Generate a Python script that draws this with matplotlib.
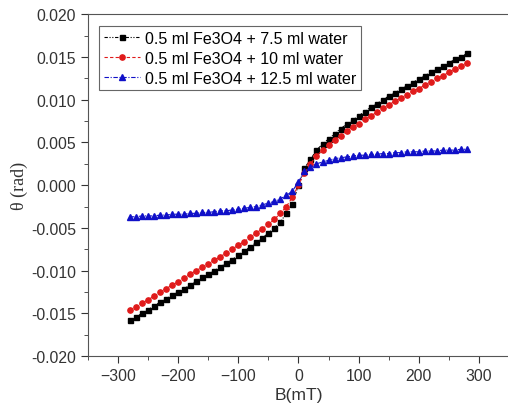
import numpy as np
import matplotlib.pyplot as plt
from matplotlib.ticker import MultipleLocator

# B field (mT), 10 mT steps
B = list(range(-280, 281, 10))

# 0.5 ml Fe3O4 + 7.5 ml water
theta_75 = [-0.0158, -0.0154, -0.0150, -0.0146, -0.0141, -0.0137, -0.0133, -0.0129,
            -0.0125, -0.0121, -0.0117, -0.0112, -0.0108, -0.0104, -0.0100, -0.0096,
            -0.0091, -0.0087, -0.0082, -0.0077, -0.0072, -0.0067, -0.0062, -0.0056,
            -0.0050, -0.0043, -0.0033, -0.0022, 0.0000, 0.0020, 0.0030, 0.0041,
            0.0048, 0.0054, 0.0060, 0.0066, 0.0071, 0.0076, 0.0081, 0.0086,
            0.0091, 0.0095, 0.0100, 0.0104, 0.0108, 0.0112, 0.0116, 0.0120,
            0.0124, 0.0128, 0.0132, 0.0136, 0.0139, 0.0143, 0.0147, 0.0150, 0.0154]
# 0.5 ml Fe3O4 + 10 ml water
theta_10 = [-0.0146, -0.0142, -0.0138, -0.0134, -0.0130, -0.0125, -0.0121, -0.0117,
            -0.0113, -0.0109, -0.0104, -0.0100, -0.0096, -0.0092, -0.0088, -0.0084,
            -0.0079, -0.0075, -0.0070, -0.0066, -0.0061, -0.0056, -0.0051, -0.0046,
            -0.0040, -0.0033, -0.0025, -0.0014, 0.0000, 0.0014, 0.0025, 0.0034,
            0.0041, 0.0047, 0.0053, 0.0058, 0.0063, 0.0068, 0.0072, 0.0077,
            0.0081, 0.0085, 0.0090, 0.0094, 0.0098, 0.0102, 0.0106, 0.0110,
            0.0113, 0.0117, 0.0121, 0.0125, 0.0128, 0.0132, 0.0136, 0.0139, 0.0143]
# 0.5 ml Fe3O4 + 12.5 ml water
theta_125 = [-0.0037, -0.0037, -0.0036, -0.0036, -0.0036, -0.0035, -0.0035, -0.0034,
             -0.0034, -0.0034, -0.0033, -0.0033, -0.0032, -0.0032, -0.0031, -0.0030,
             -0.0030, -0.0029, -0.0028, -0.0027, -0.0026, -0.0025, -0.0023, -0.0021,
             -0.0019, -0.0016, -0.0012, -0.0007, 0.0004, 0.0016, 0.0021, 0.0025,
             0.0027, 0.0029, 0.0031, 0.0032, 0.0033, 0.0034, 0.0035, 0.0035,
             0.0036, 0.0036, 0.0037, 0.0037, 0.0038, 0.0038, 0.0039, 0.0039,
             0.0039, 0.0040, 0.0040, 0.0040, 0.0041, 0.0041, 0.0041, 0.0042, 0.0042]

labels = ['0.5 ml Fe3O4 + 7.5 ml water',
          '0.5 ml Fe3O4 + 10 ml water',
          '0.5 ml Fe3O4 + 12.5 ml water']

plt.rcParams['font.family'] = ['Liberation Sans', 'DejaVu Sans']

fig = plt.figure(figsize=(5.08, 4.10), dpi=100)
ax = fig.add_axes([0.173, 0.129, 0.829, 0.834])

ax.plot(B, theta_75, color='black', linestyle=(0, (3, 1.5, 1, 1.5, 1, 1.5)), lw=0.8,
        marker='s', markersize=3.6, label=labels[0])
ax.plot(B, theta_10, color='#e01b1b', linestyle=(0, (3, 2)), lw=0.8,
        marker='o', markersize=3.8, label=labels[1])
ax.plot(B, theta_125, color='#1010c8', linestyle=(0, (4, 1.5, 1, 1.5)), lw=0.8,
        marker='^', markersize=4.0, label=labels[2])

ax.set_xlim(-350, 350)
ax.set_ylim(-0.020, 0.020)
ax.xaxis.set_major_locator(MultipleLocator(100))
ax.xaxis.set_minor_locator(MultipleLocator(50))
ax.yaxis.set_major_locator(MultipleLocator(0.005))
ax.yaxis.set_minor_locator(MultipleLocator(0.0025))
ax.yaxis.set_major_formatter(plt.FormatStrFormatter('%.3f'))
ax.tick_params(which='both', direction='out', top=False, right=False,
               labelsize=11.3, colors='#333333')
ax.tick_params(which='major', length=5)
ax.tick_params(which='minor', length=3)
for s in ax.spines.values():
    s.set_color('#555555')

ax.set_xlabel('B(mT)', fontsize=12.6, color='#333333', labelpad=3)
ax.set_ylabel('θ (rad)', fontsize=13, color='#333333', labelpad=2,
              family=['Liberation Serif', 'DejaVu Serif'])

leg = ax.legend(loc='upper left', bbox_to_anchor=(0.026, 0.965), fontsize=11.5,
                fancybox=False, framealpha=1, edgecolor='#666666',
                handlelength=2.3, handletextpad=0.3, borderpad=0.3,
                labelspacing=0.3, borderaxespad=0)
leg.get_frame().set_linewidth(0.8)

fig.savefig('out.png', dpi=100)
